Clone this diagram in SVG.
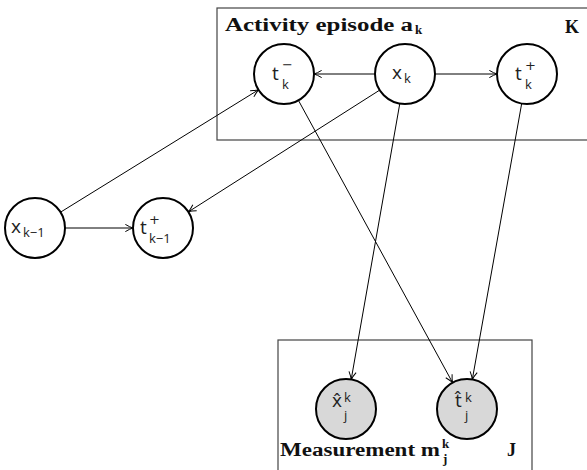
<svg xmlns="http://www.w3.org/2000/svg" width="587" height="470" viewBox="0 0 587 470">
  <defs>
    <marker id="arr" viewBox="0 0 10 10" refX="9.5" refY="5" markerWidth="9" markerHeight="9" markerUnits="userSpaceOnUse" orient="auto">
      <path d="M1,1 Q6,4 9.5,5 Q6,6 1,9" fill="none" stroke="#000" stroke-width="1.1"/>
    </marker>
    <style>
      .plate { fill: none; stroke: #444; stroke-width: 1.2; }
      .node { fill: #fff; stroke: #000; stroke-width: 2; }
      .obs { fill: #d8d8d8; stroke: #000; stroke-width: 2; }
      .edge { stroke: #000; stroke-width: 1; fill: none; marker-end: url(#arr); }
      .ttl { font-family: "Liberation Serif", serif; font-weight: bold; font-size: 18px; fill: #111; }
      .ttls { font-family: "Liberation Serif", serif; font-weight: bold; font-size: 13px; fill: #111; }
      .lb { font-family: "Open Sans", sans-serif; font-size: 19px; fill: #222; }
      .sb { font-family: "Open Sans", sans-serif; font-size: 13px; fill: #222; }
      .op { font-family: "DejaVu Sans", sans-serif; font-size: 13px; fill: #222; }
    </style>
  </defs>
  <rect width="587" height="470" fill="#fff"/>

  <!-- plates -->
  <g id="plate-activity">
    <rect class="plate" x="217" y="8" width="380" height="132"/>
    <text class="ttl" x="225" y="31" textLength="188" lengthAdjust="spacingAndGlyphs">Activity episode a</text>
    <text class="ttls" x="415" y="34">k</text>
    <text class="ttl" x="565" y="33">K</text>
  </g>
  <g id="plate-measurement">
    <rect class="plate" x="278" y="340" width="254" height="140"/>
    <text class="ttl" x="280" y="456" textLength="160" lengthAdjust="spacingAndGlyphs">Measurement m</text>
    <text class="ttls" x="442" y="448">k</text>
    <text class="ttls" x="443" y="463">j</text>
    <text class="ttl" x="507" y="456">J</text>
  </g>

  <!-- connectors -->
  <g id="edges">
    <line class="edge" x1="375" y1="74" x2="314" y2="74"/>
    <line class="edge" x1="435" y1="74" x2="497" y2="74"/>
    <line class="edge" x1="65" y1="228" x2="133" y2="228"/>
    <line class="edge" x1="60.5" y1="212.2" x2="258.5" y2="89.8"/>
    <line class="edge" x1="379.7" y1="90.1" x2="188.3" y2="211.9"/>
    <line class="edge" x1="399.8" y1="103.5" x2="351.2" y2="379.5"/>
    <line class="edge" x1="298.4" y1="100.3" x2="452.6" y2="382.7"/>
    <line class="edge" x1="521.7" y1="103.5" x2="472.3" y2="379.5"/>
  </g>

  <!-- nodes -->
  <g id="node-t-minus-k">
    <circle class="node" cx="284" cy="74" r="30"/>
    <text class="lb" x="272" y="80">t</text>
    <text class="op" x="282" y="69">−</text>
    <text class="sb" x="282" y="89">k</text>
  </g>
  <g id="node-x-k">
    <circle class="node" cx="405" cy="74" r="30"/>
    <text class="lb" x="392" y="79">x</text>
    <text class="sb" x="404" y="83">k</text>
  </g>
  <g id="node-t-plus-k">
    <circle class="node" cx="527" cy="74" r="30"/>
    <text class="lb" x="515" y="80">t</text>
    <text class="op" x="525" y="70">+</text>
    <text class="sb" x="525" y="89">k</text>
  </g>
  <g id="node-x-k-1">
    <circle class="node" cx="35" cy="228" r="30"/>
    <text class="lb" x="11" y="233">x</text>
    <text class="sb" x="23" y="237">k−1</text>
  </g>
  <g id="node-t-plus-k-1">
    <circle class="node" cx="163" cy="228" r="30"/>
    <text class="lb" x="140" y="234">t</text>
    <text class="op" x="149" y="224">+</text>
    <text class="sb" x="149" y="243">k−1</text>
  </g>
  <g id="node-x-hat">
    <circle class="obs" cx="346" cy="409" r="30"/>
    <text class="lb" x="332" y="407">x̂</text>
    <text class="sb" x="344" y="402">k</text>
    <text class="sb" x="344" y="420">j</text>
  </g>
  <g id="node-t-hat">
    <circle class="obs" cx="467" cy="409" r="30"/>
    <text class="lb" x="455" y="407">t̂</text>
    <text class="sb" x="465" y="402">k</text>
    <text class="sb" x="465" y="420">j</text>
  </g>
</svg>
